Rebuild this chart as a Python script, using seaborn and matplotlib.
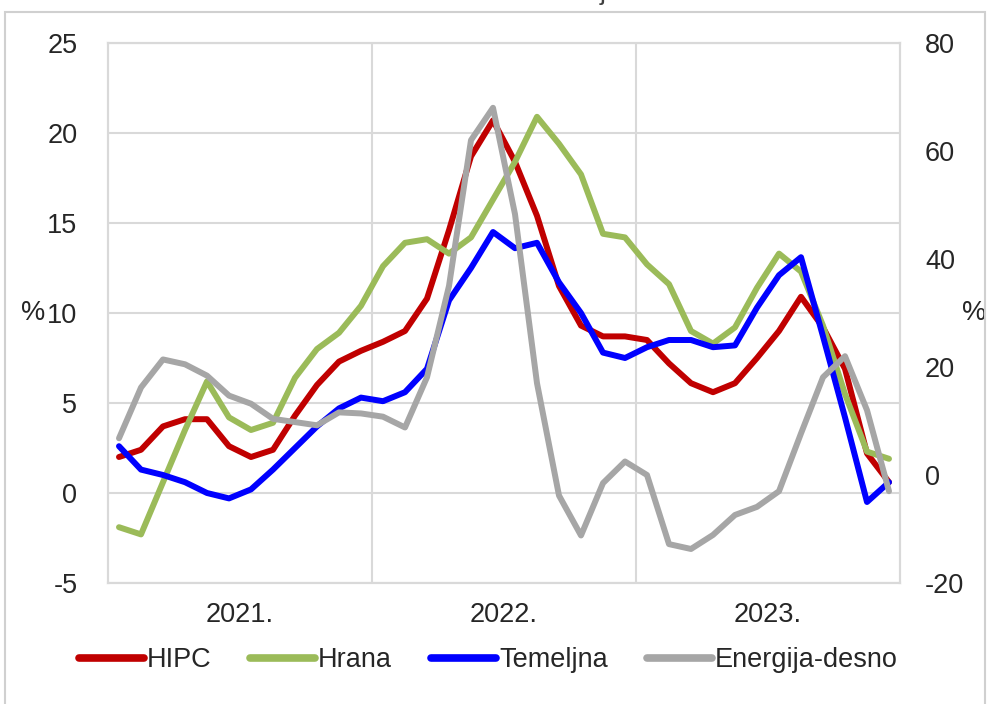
import seaborn as sns
import matplotlib.pyplot as plt
import pandas as pd
import numpy as np
from matplotlib.patches import Rectangle

# monthly data, Jan 2021 - Dec 2023
months = pd.date_range('2021-01-01', periods=36, freq='MS')
hipc = [2.0, 2.4, 3.7, 4.1, 4.1, 2.6, 2.0, 2.4, 4.3, 6.0, 7.3, 7.9,
        8.4, 9.0, 10.8, 14.6, 18.7, 20.7, 18.4, 15.4, 11.5, 9.3, 8.7, 8.7,
        8.5, 7.2, 6.1, 5.6, 6.1, 7.5, 9.0, 10.9, 9.2, 6.9, 2.2, 0.6]
hrana = [-1.9, -2.3, 0.6, 3.5, 6.2, 4.2, 3.5, 3.9, 6.4, 8.0, 8.9, 10.4,
         12.6, 13.9, 14.1, 13.3, 14.2, 16.3, 18.4, 20.9, 19.4, 17.7, 14.4, 14.2,
         12.7, 11.6, 9.0, 8.3, 9.2, 11.4, 13.3, 12.3, 9.3, 5.5, 2.3, 1.9]
temeljna = [2.6, 1.3, 1.0, 0.6, 0.0, -0.3, 0.2, 1.3, 2.5, 3.7, 4.7, 5.3,
            5.1, 5.6, 6.9, 10.7, 12.5, 14.5, 13.6, 13.9, 11.7, 10.0, 7.8, 7.5,
            8.1, 8.5, 8.5, 8.1, 8.2, 10.3, 12.1, 13.1, 8.7, 4.2, -0.5, 0.6]
energija = [6.8, 16.2, 21.4, 20.5, 18.4, 14.7, 13.2, 10.4, 9.8, 9.2, 11.6, 11.4,
            10.8, 8.8, 18.1, 35.0, 62.0, 68.0, 48.3, 17.0, -3.8, -11.2, -1.5, 2.5,
            0.0, -12.8, -13.7, -11.1, -7.4, -5.9, -3.0, 7.7, 18.1, 22.0, 12.0, -3.0]
years = ['2021.', '2022.', '2023.']

df = pd.DataFrame({'t': np.arange(len(months)), 'HIPC': hipc, 'Hrana': hrana,
                   'Temeljna': temeljna, 'Energija-desno': energija})

sns.set_theme(style='white')
plt.rcParams['font.family'] = ['Liberation Sans', 'DejaVu Sans']
plt.rcParams['axes.unicode_minus'] = False

fig = plt.figure(figsize=(9.9, 7.04), dpi=100)
ax = fig.add_axes([108/990, 121/704, 792/990, 540/704])
ax2 = ax.twinx()

lw = 4.3
sns.lineplot(data=df, x='t', y='HIPC', ax=ax, color='#C00000', lw=lw, label='HIPC', legend=False)
sns.lineplot(data=df, x='t', y='Hrana', ax=ax, color='#9BBB59', lw=lw, label='Hrana', legend=False)
sns.lineplot(data=df, x='t', y='Temeljna', ax=ax, color='#0000FF', lw=lw, label='Temeljna', legend=False)
sns.lineplot(data=df, x='t', y='Energija-desno', ax=ax2, color='#A6A6A6', lw=lw,
             label='Energija-desno', legend=False)

# axes ranges
ax.set_xlim(-0.5, 35.5)
ax.set_ylim(-5, 25)
ax.set_yticks(range(-5, 30, 5))
ax2.set_ylim(-20, 80)
ax2.set_yticks(range(-20, 100, 20))

# year boundaries as gridlines, year labels in the middle
ax.set_xticks([11.5, 23.5])
ax.set_xticklabels(['', ''])
ax.set_xticks([5.5, 17.5, 29.5], minor=True)
ax.set_xticklabels(years, minor=True)
ax.set_xlabel('')
ax.tick_params(axis='x', which='both', length=0, pad=14, labelsize=19.5)
ax.tick_params(axis='y', length=0, pad=22, labelsize=19.5)
ax2.tick_params(axis='y', length=0, pad=18, labelsize=19.5)

ax.grid(True, which='major', color='#D9D9D9', lw=1.5)
ax2.grid(False)
for a in (ax, ax2):
    for s in a.spines.values():
        s.set_color('#D9D9D9')
        s.set_linewidth(1.5)

ax.set_ylabel('%', rotation=0, fontsize=19.5, ha='center', va='center')
ax.yaxis.set_label_coords(-0.095, 0.5)
ax2.set_ylabel('%', rotation=0, fontsize=19.5, ha='center', va='center')
ax2.yaxis.set_label_coords(1.093, 0.5)

handles = ax.get_lines() + ax2.get_lines()
labels = [h.get_label() for h in handles]
leg = fig.legend(handles, labels, loc='center', bbox_to_anchor=(0.493, 0.0625), ncol=4,
                 frameon=False, fontsize=19.5, handlelength=2.4, handletextpad=0.1,
                 columnspacing=1.45)
for h in leg.legend_handles:
    h.set_linewidth(5.5)
    h.set_solid_capstyle('round')

# outer chart frame and the cut-off title above
fig.patches.append(Rectangle((5/990, -0.05), 980/990, 692/704 + 0.05, transform=fig.transFigure,
                             fill=False, edgecolor='#D0D0D0', lw=1.5))
fig.text(603/990, 1.0, 'j', fontsize=19, ha='center', va='baseline', color='#404040')

fig.savefig('out.png', dpi=100)
